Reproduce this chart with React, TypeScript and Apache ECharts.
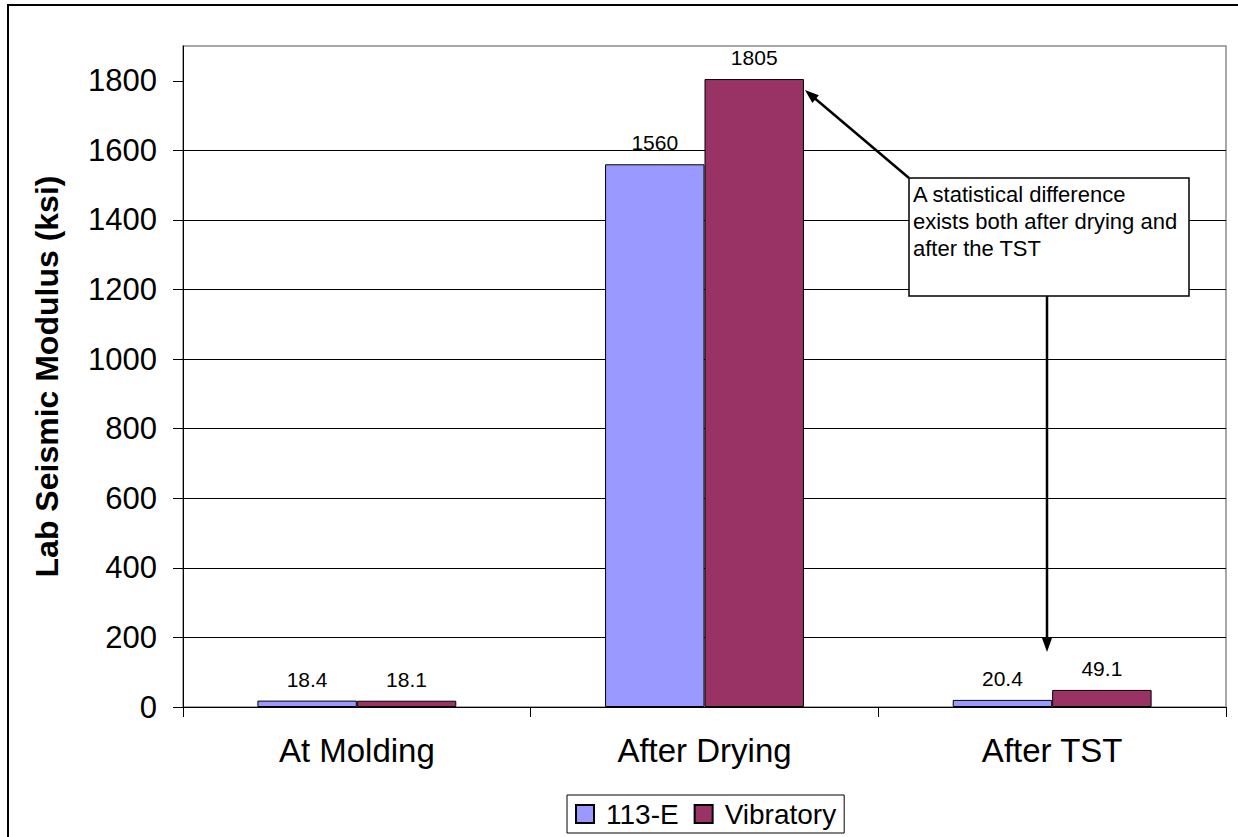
import React, { useEffect, useRef } from "react";
import * as echarts from "echarts";

const categories = ["At Molding", "After Drying", "After TST"];
const series113E = [18.4, 1560, 20.4];
const seriesVibratory = [18.1, 1805, 49.1];
const yTicks = [0, 200, 400, 600, 800, 1000, 1200, 1400, 1600, 1800];
const seriesNames = ["113-E", "Vibratory"];
const annotationText = "A statistical difference\nexists both after drying and\nafter the TST";

const FONT = 'Arial, "Liberation Sans", sans-serif';

export default function App() {
  const ref = useRef<HTMLDivElement>(null);
  useEffect(() => {
    document.body.style.margin = "0";
    const chart = echarts.init(ref.current!, null, { renderer: "svg" });
    const gridLeft = 183;
    const gridRight = 12;
    const gridTop = 46;
    const gridBottom = 130;
    const catGap = 0.428;
    const labelCommon = {
      show: true,
      position: "top" as const,
      distance: 11,
      fontSize: 21,
      color: "#000",
      fontFamily: FONT,
    };
    chart.setOption({
      animation: false,
      backgroundColor: "#fff",
      textStyle: { fontFamily: FONT, color: "#000" },
      grid: {
        left: gridLeft,
        right: gridRight,
        top: gridTop,
        bottom: gridBottom,
        show: true,
        borderColor: "#8c8c8c",
        borderWidth: 1.5,
        backgroundColor: "transparent",
      },
      legend: {
        data: seriesNames,
        left: 567,
        top: 795,
        orient: "horizontal",
        icon: "rect",
        itemWidth: 18,
        itemHeight: 18,
        itemGap: 15,
        padding: [5, 8, 5, 8],
        borderColor: "#000",
        borderWidth: 1,
        textStyle: { fontSize: 28, color: "#000", fontFamily: FONT, padding: [0, 0, 0, 7] },
      },
      xAxis: {
        type: "category",
        data: categories,
        axisLine: { lineStyle: { color: "#000", width: 1 } },
        axisTick: { show: true, length: 10, inside: false, lineStyle: { color: "#000" } },
        axisLabel: { fontSize: 33, color: "#000", margin: 27, fontFamily: FONT },
      },
      yAxis: {
        type: "value",
        min: 0,
        max: 1900,
        interval: 200,
        name: "Lab Seismic Modulus (ksi)",
        nameLocation: "middle",
        nameGap: 120,
        nameRotate: 90,
        nameTextStyle: { fontSize: 32, fontWeight: "bold", color: "#000", fontFamily: FONT },
        axisLine: { show: true, lineStyle: { color: "#000", width: 1 } },
        axisTick: { show: true, length: 10, inside: false, lineStyle: { color: "#000" }, customValues: yTicks },
        axisLabel: {
          fontSize: 31,
          color: "#000",
          margin: 26,
          fontFamily: FONT,
          customValues: yTicks,
          formatter: (v: number) => String(v),
        },
        splitLine: { show: true, showMaxLine: false, showMinLine: false, lineStyle: { color: "#000", width: 1 } },
      },
      series: [
        {
          name: seriesNames[0],
          type: "bar",
          data: series113E,
          barGap: "0%",
          barCategoryGap: catGap * 100 + "%",
          itemStyle: { color: "#9999FF", borderColor: "#000", borderWidth: 1 },
          label: labelCommon,
        },
        {
          name: seriesNames[1],
          type: "bar",
          data: seriesVibratory,
          barGap: "0%",
          barCategoryGap: catGap * 100 + "%",
          itemStyle: { color: "#993366", borderColor: "#000", borderWidth: 1 },
          label: labelCommon,
        },
      ],
    });

    // Annotation arrows computed from chart scales
    const gridW = 1238 - gridLeft - gridRight;
    const catW = gridW / categories.length;
    const barW = (catW * (1 - catGap)) / 2;
    const p1 = chart.convertToPixel({ xAxisIndex: 0, yAxisIndex: 0 }, [1, seriesVibratory[1]]) as number[];
    const tip1 = [p1[0] + barW + 1, p1[1] + 11];
    const boxX = 909, boxY = 178, boxW = 280, boxH = 118;
    const start1 = [boxX, boxY];
    const start2 = [1047, boxY + boxH];
    const tip2 = [1047, 652];

    const arrowHead = (from: number[], to: number[], len = 14, half = 5) => {
      const dx = to[0] - from[0], dy = to[1] - from[1];
      const L = Math.hypot(dx, dy);
      const ux = dx / L, uy = dy / L;
      const bx = to[0] - ux * len, by = to[1] - uy * len;
      return [
        [to[0], to[1]],
        [bx - uy * half, by + ux * half],
        [bx + uy * half, by - ux * half],
      ];
    };
    const lineEnd = (from: number[], to: number[], len = 12) => {
      const dx = to[0] - from[0], dy = to[1] - from[1];
      const L = Math.hypot(dx, dy);
      return [to[0] - (dx / L) * len, to[1] - (dy / L) * len];
    };
    const e1 = lineEnd(start1, tip1);
    const e2 = lineEnd(start2, tip2);

    chart.setOption({
      graphic: [
        {
          type: "rect",
          shape: { x: 8, y: 5, width: 1400, height: 1000 },
          style: { fill: "none", stroke: "#000", lineWidth: 2 },
          silent: true,
          z: 100,
        },
        {
          type: "line",
          shape: { x1: start1[0], y1: start1[1], x2: e1[0], y2: e1[1] },
          style: { stroke: "#000", lineWidth: 2.5 },
          z: 100,
        },
        {
          type: "polygon",
          shape: { points: arrowHead(start1, tip1) },
          style: { fill: "#000" },
          z: 100,
        },
        {
          type: "line",
          shape: { x1: start2[0], y1: start2[1], x2: e2[0], y2: e2[1] },
          style: { stroke: "#000", lineWidth: 2.5 },
          z: 100,
        },
        {
          type: "polygon",
          shape: { points: arrowHead(start2, tip2) },
          style: { fill: "#000" },
          z: 100,
        },
        {
          type: "rect",
          shape: { x: boxX, y: boxY, width: boxW, height: boxH },
          style: { fill: "#fff", stroke: "#000", lineWidth: 1.5 },
          z: 101,
        },
        {
          type: "text",
          x: boxX + 4,
          y: boxY + 3,
          style: {
            text: annotationText,
            fontSize: 22,
            lineHeight: 27,
            fill: "#000",
            fontFamily: FONT,
            textAlign: "left",
            textVerticalAlign: "top",
          },
          z: 102,
        },
      ],
    });
    return () => chart.dispose();
  }, []);
  return <div ref={ref} style={{ width: 1238, height: 837 }} />;
}
